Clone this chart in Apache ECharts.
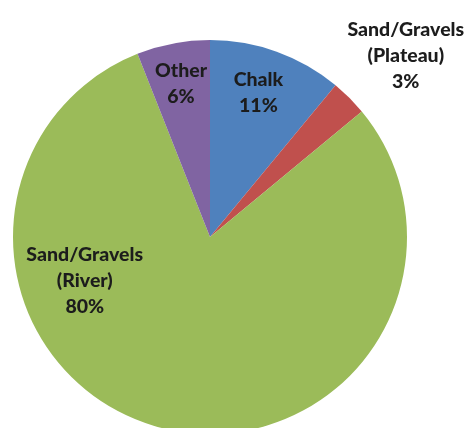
<!DOCTYPE html>
<html>
<head>
<meta charset="utf-8">
<script src="https://cdn.jsdelivr.net/npm/echarts@6/dist/echarts.min.js"></script>
<style>html,body{margin:0;padding:0;background:#fff;}#c{width:469px;height:428px;}</style>
</head>
<body>
<div id="c"></div>
<script>
const categories = ['Chalk', 'Sand/Gravels\n(Plateau)', 'Sand/Gravels\n(River)', 'Other'];
const values = [11, 3, 80, 6];
const colors = ['#4F81BD', '#C0504D', '#9BBB59', '#8064A2'];
const labelOffsets = [[14, -49], [124, -110], [-100, -55], [-10, -54]];

const chart = echarts.init(document.getElementById('c'), null, {renderer: 'canvas'});
chart.setOption({
  animation: false,
  backgroundColor: '#ffffff',
  series: [{
    type: 'pie',
    center: [210, 237],
    radius: 197,
    startAngle: 90,
    clockwise: true,
    percentPrecision: 0,
    itemStyle: {borderWidth: 0},
    label: {
      show: true,
      position: 'inside',
      formatter: '{b}\n{d}%',
      fontFamily: 'Lato',
      fontWeight: 900,
      fontSize: 19.5,
      lineHeight: 26,
      color: '#1c1c1c',
      align: 'center'
    },
    labelLine: {show: false},
    emphasis: {disabled: true},
    data: categories.map((n, i) => ({
      name: n,
      value: values[i],
      itemStyle: {color: colors[i]},
      label: {offset: labelOffsets[i]}
    }))
  }]
});
</script>
</body>
</html>
